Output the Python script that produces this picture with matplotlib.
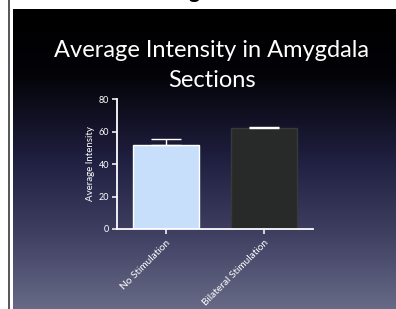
import numpy as np
import matplotlib.pyplot as plt
from matplotlib.colors import LinearSegmentedColormap
from matplotlib.lines import Line2D

# data
groups = ['No Stimulation', 'Bilateral Stimulation']
means = [51.7, 62.3]
errors = [3.5, 0.5]
yticks = [0, 20, 40, 60, 80]
title_lines = ['Average Intensity in Amygdala', 'Sections']

plt.rcParams['font.family'] = ['Lato', 'DejaVu Sans']

fig = plt.figure(figsize=(3.96, 3.09), dpi=100)
fig.patch.set_facecolor('white')

# slide background with vertical gradient
bg = fig.add_axes([13 / 396, 0, 383 / 396, 300 / 309])
cmap = LinearSegmentedColormap.from_list('slide', [
    (0.0, '#000000'),
    (0.22, '#030308'),
    (0.5, '#1f1f40'),
    (0.75, '#3f3f62'),
    (1.0, '#676a86'),
])
grad = np.linspace(0, 1, 256).reshape(-1, 1)
bg.imshow(grad, aspect='auto', cmap=cmap, extent=[0, 1, 0, 1], origin='upper')
bg.set_axis_off()

# thin border line on the left and cut-off heading above
fig.add_artist(Line2D([8.5 / 396, 8.5 / 396], [0, 1], color='#3a3a3a', lw=1.2))
fig.text(194 / 396, 1.0 + 2 / 309, 'g', color='black', fontsize=15,
         fontweight='bold', ha='center', va='baseline')

# title, one line at a time
for line, base in zip(title_lines, [57, 87]):
    fig.text(212 / 396, 1 - base / 309, line, color='white', fontsize=17,
             ha='center', va='baseline')

ax = fig.add_axes([117 / 396, 80 / 309, 196 / 396, 130 / 309])
ax.patch.set_alpha(0)
x = np.arange(len(groups))
ax.bar(x, means, width=0.67, color=['#c7dffb', '#272a29'],
       edgecolor=['white', '#383a3a'], linewidth=1, zorder=2)
ax.errorbar(x, means, yerr=[[0, 0], errors], fmt='none', ecolor='white',
            elinewidth=1, capsize=11, capthick=1, zorder=3)

ax.set_xlim(-0.5, 1.5)
ax.set_ylim(0, 80)
ax.set_yticks(yticks)
ax.set_xticks(x)
ax.set_xticklabels(groups, rotation=45, ha='right', rotation_mode='anchor',
                   fontsize=7.2)
ax.set_ylabel('Average Intensity', color='white', fontsize=7, labelpad=3)

for side in ['top', 'right']:
    ax.spines[side].set_visible(False)
for side in ['left', 'bottom']:
    ax.spines[side].set_color('white')
    ax.spines[side].set_linewidth(1.3)
ax.tick_params(colors='white', length=3.5, width=1.1, pad=2)
ax.tick_params(axis='y', labelsize=6.5)
ax.tick_params(axis='x', pad=3)

fig.savefig('out.png', dpi=100)
